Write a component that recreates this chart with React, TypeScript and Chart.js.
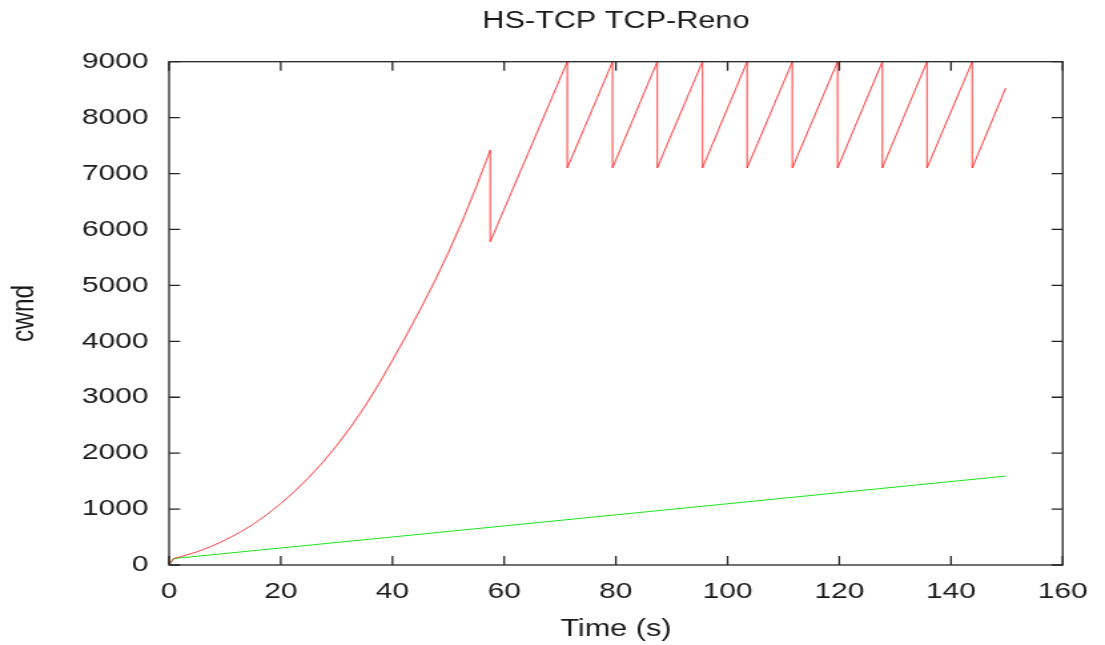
import React, { useEffect, useRef } from "react";
import { Chart, registerables } from "chart.js";

Chart.register(...registerables);

// HS-TCP (red) : time (s) and cwnd
const tHS = [
  0, 0.8, 2.5, 5, 7.5, 10, 12.5, 15, 17.5, 20, 22.5, 25, 27.5, 30, 32.5, 35, 37.5, 40,
  42.5, 45, 47.5, 50, 52.5, 55, 57.5, 57.5, 71.3, 71.3, 79.4, 79.4, 87.4, 87.4, 95.5, 95.5,
  103.5, 103.5, 111.6, 111.6, 119.7, 119.7, 127.7, 127.7, 135.7, 135.7, 143.8, 143.8, 149.8,
];
const cwndHS = [
  0, 115, 160, 235, 330, 445, 575, 725, 900, 1100, 1320, 1565, 1835, 2135, 2465, 2830, 3230,
  3660, 4110, 4575, 5065, 5585, 6150, 6765, 7420, 5780, 9000, 7100, 9000, 7100, 9000, 7100,
  9000, 7100, 9000, 7100, 9000, 7100, 9000, 7100, 9000, 7100, 9000, 7100, 9000, 7100, 8530,
];

// TCP-Reno (green)
const tReno = [0, 0.8, 50, 100, 149.8];
const cwndReno = [0, 115, 600, 1095, 1590];

const xTicks = [0, 20, 40, 60, 80, 100, 120, 140, 160];
const yTicks = [0, 1000, 2000, 3000, 4000, 5000, 6000, 7000, 8000, 9000];

const W = 830;
const H = 645;
const DISPLAY_W = 1105;
const FONT = "'Liberation Sans', Arial, Helvetica, sans-serif";
const TEXT = "#1a1a1a";

const frameTicks = {
  id: "frameTicks",
  afterDatasetsDraw(chart: any) {
    const { ctx, chartArea, scales } = chart;
    const { left, right, top, bottom } = chartArea;
    const x = scales.x;
    const y = scales.y;
    ctx.save();
    ctx.strokeStyle = "#262626";
    ctx.lineWidth = 1.3;
    ctx.strokeRect(left, top, right - left, bottom - top);
    ctx.beginPath();
    for (const v of xTicks) {
      const px = x.getPixelForValue(v);
      ctx.moveTo(px, bottom);
      ctx.lineTo(px, bottom - 9);
      ctx.moveTo(px, top);
      ctx.lineTo(px, top + 9);
    }
    for (const v of yTicks) {
      const py = y.getPixelForValue(v);
      ctx.moveTo(left, py);
      ctx.lineTo(left + 8.3, py);
      ctx.moveTo(right, py);
      ctx.lineTo(right - 8.3, py);
    }
    ctx.stroke();
    ctx.restore();
  },
};

const isVertical = (c: any) => c.p0.parsed.x === c.p1.parsed.x;

export default function App() {
  const ref = useRef<HTMLCanvasElement | null>(null);

  useEffect(() => {
    if (!ref.current) return;
    const chart = new Chart(ref.current, {
      type: "line",
      data: {
        datasets: [
          {
            label: "HS-TCP",
            data: tHS.map((t, i) => ({ x: t, y: cwndHS[i] })),
            borderColor: "#ff1a1a",
            borderWidth: 0.85,
            pointRadius: 0,
            tension: 0,
            fill: false,
            segment: {
              borderColor: (c: any) => (isVertical(c) ? "rgba(255,40,40,0.55)" : undefined),
              borderWidth: (c: any) => (isVertical(c) ? 0.7 : undefined),
            },
          },
          {
            label: "TCP-Reno",
            data: tReno.map((t, i) => ({ x: t, y: cwndReno[i] })),
            borderColor: "#00e000",
            borderWidth: 0.9,
            pointRadius: 0,
            tension: 0,
            fill: false,
          },
        ],
      },
      options: {
        responsive: false,
        animation: false,
        devicePixelRatio: 1,
        events: [],
        layout: { padding: { left: 0, right: 25.6, top: 0, bottom: 0 } },
        plugins: {
          legend: { display: false },
          tooltip: { enabled: false },
          title: {
            display: true,
            fullSize: false,
            text: "HS-TCP TCP-Reno",
            color: TEXT,
            font: { family: FONT, size: 23, weight: "normal" },
            padding: { top: 8, bottom: 26.1 },
          },
        },
        scales: {
          x: {
            type: "linear",
            min: 0,
            max: 160,
            grid: { display: false, drawTicks: false },
            border: { display: false },
            afterBuildTicks: (s: any) => {
              s.ticks = xTicks.map((v) => ({ value: v }));
            },
            afterFit: (s: any) => {
              s.height = 80;
            },
            ticks: {
              autoSkip: false,
              maxRotation: 0,
              minRotation: 0,
              padding: 13,
              color: TEXT,
              font: { family: FONT, size: 22.5 },
              callback: (v: any) => String(v),
            },
            title: {
              display: true,
              text: "Time (s)",
              color: TEXT,
              font: { family: FONT, size: 23 },
              padding: { top: 0, bottom: 2 },
            },
          },
          y: {
            type: "linear",
            min: 0,
            max: 9000,
            grid: { display: false, drawTicks: false },
            border: { display: false },
            afterBuildTicks: (s: any) => {
              s.ticks = yTicks.map((v) => ({ value: v }));
            },
            afterFit: (s: any) => {
              s.width = 127;
            },
            ticks: {
              autoSkip: false,
              padding: 15.5,
              color: TEXT,
              font: { family: FONT, size: 22.5 },
              callback: (v: any) => String(v),
            },
            title: {
              display: true,
              text: "cwnd",
              color: TEXT,
              font: { family: FONT, size: 24.5 },
              padding: { top: 4, bottom: 0 },
            },
          },
        },
      },
      plugins: [frameTicks],
    } as any);
    return () => chart.destroy();
  }, []);

  return (
    <div style={{ position: "fixed", left: 0, top: 0, width: DISPLAY_W, height: H, background: "#fff" }}>
      <canvas
        ref={ref}
        width={W}
        height={H}
        style={{ display: "block", width: `${DISPLAY_W}px`, height: `${H}px` }}
      />
    </div>
  );
}
